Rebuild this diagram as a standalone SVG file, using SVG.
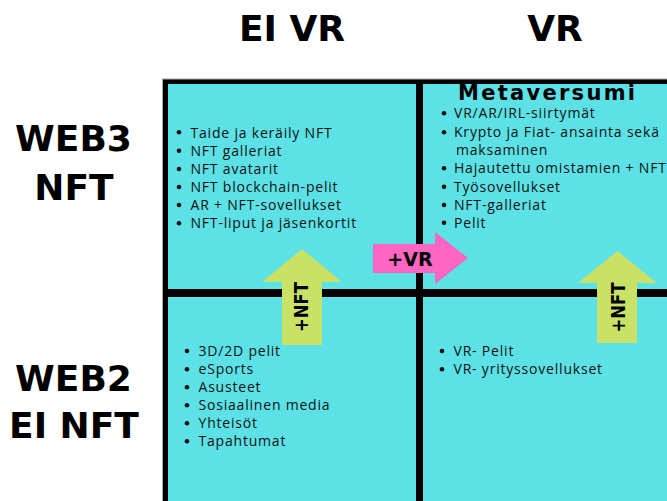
<svg xmlns="http://www.w3.org/2000/svg" width="667" height="501" viewBox="0 0 667 501">
<style>
.cell{fill:#5CE1E6}
.hdr{font-family:"DejaVu Sans","Liberation Sans",sans-serif;font-weight:bold;font-size:36px;fill:#000;text-anchor:middle}
.item{font-family:"Open Sans","Liberation Sans",sans-serif;font-size:14px;letter-spacing:0.8px;fill:#111}
.dot{fill:#111}
.lbl{font-family:"DejaVu Sans","Liberation Sans",sans-serif;font-weight:bold;fill:#000;text-anchor:middle}
.pink{fill:#FF66C4}
.green{fill:#C9E265}
</style>
<rect width="667" height="501" fill="#fff"/>
<g id="headers">
<text class="hdr" x="292" y="41">EI VR</text>
<text class="hdr" x="555" y="41">VR</text>
<text class="hdr" x="73.5" y="151">WEB3</text>
<text class="hdr" x="74" y="200">NFT</text>
<text class="hdr" x="73.5" y="391">WEB2</text>
<text class="hdr" x="74" y="438">EI NFT</text>
</g>
<g id="grid">
<rect x="162.5" y="79" width="505" height="423" fill="#000" stroke="#aaa" stroke-width="1"/>
</g>
<g id="cell-web3-eivr">
<rect class="cell" x="168" y="84" width="248" height="205"/>
<g class="dot"><circle cx="179" cy="132.3" r="2.3"/><circle cx="179" cy="150.7" r="2.3"/><circle cx="179" cy="169" r="2.3"/><circle cx="179" cy="187" r="2.3"/><circle cx="179" cy="205" r="2.3"/><circle cx="179" cy="223.3" r="2.3"/></g>
<text class="item" x="190.5" y="137.5">Taide ja keräily NFT</text>
<text class="item" x="190.5" y="155.8">NFT galleriat</text>
<text class="item" x="190.5" y="174">NFT avatarit</text>
<text class="item" x="190.5" y="192">NFT blockchain-pelit</text>
<text class="item" x="190.5" y="210">AR + NFT-sovellukset</text>
<text class="item" x="190.5" y="228.3">NFT-liput ja jäsenkortit</text>
</g>
<g id="cell-web3-vr">
<rect class="cell" x="423" y="84" width="244" height="205"/>
<text class="lbl" x="546.5" y="100" font-size="21" textLength="177" lengthAdjust="spacing">Metaversumi</text>
<g class="dot"><circle cx="444" cy="113.3" r="2.3"/><circle cx="444" cy="132.3" r="2.3"/><circle cx="444" cy="168.3" r="2.3"/><circle cx="444" cy="186.7" r="2.3"/><circle cx="444" cy="205" r="2.3"/><circle cx="444" cy="222.7" r="2.3"/></g>
<text class="item" x="454" y="118.3">VR/AR/IRL-siirtymät</text>
<text class="item" x="454" y="137.3">Krypto ja Fiat- ansainta sekä</text>
<text class="item" x="456" y="155">maksaminen</text>
<text class="item" x="454" y="173.3">Hajautettu omistamien + NFT</text>
<text class="item" x="454" y="191.7">Työsovellukset</text>
<text class="item" x="454" y="210">NFT-galleriat</text>
<text class="item" x="454" y="227.7">Pelit</text>
</g>
<g id="cell-web2-eivr">
<rect class="cell" x="168" y="297" width="248" height="204"/>
<g class="dot"><circle cx="187" cy="351" r="2.3"/><circle cx="187" cy="369.3" r="2.3"/><circle cx="187" cy="387.3" r="2.3"/><circle cx="187" cy="405.3" r="2.3"/><circle cx="187" cy="423.3" r="2.3"/><circle cx="187" cy="441.3" r="2.3"/></g>
<text class="item" x="198.5" y="356">3D/2D pelit</text>
<text class="item" x="198.5" y="374.3">eSports</text>
<text class="item" x="198.5" y="392.3">Asusteet</text>
<text class="item" x="198.5" y="410.3">Sosiaalinen media</text>
<text class="item" x="198.5" y="428.3">Yhteisöt</text>
<text class="item" x="198.5" y="446.3">Tapahtumat</text>
</g>
<g id="cell-web2-vr">
<rect class="cell" x="423" y="297" width="244" height="204"/>
<g class="dot"><circle cx="442" cy="351" r="2.3"/><circle cx="442" cy="369.3" r="2.3"/></g>
<text class="item" x="453.5" y="356">VR- Pelit</text>
<text class="item" x="453.5" y="374.3">VR- yrityssovellukset</text>
</g>
<g id="connectors">
<g id="arrow-vr">
<polygon class="pink" points="373,244 435,244 435,232 468,258 435,284 435,273 373,273"/>
<text class="lbl" x="410" y="265.5" font-size="19">+VR</text>
</g>
<g id="arrow-nft-left">
<polygon class="green" points="282,345 282,282 262,282 302,249 342,282 322,282 322,345"/>
<text class="lbl" font-size="19" textLength="50" lengthAdjust="spacingAndGlyphs" transform="translate(308,307) rotate(-90)">+NFT</text>
</g>
<g id="arrow-nft-right">
<polygon class="green" points="597,343 597,283 578,283 617.5,251 657,283 637,283 637,343"/>
<text class="lbl" font-size="19" textLength="50" lengthAdjust="spacingAndGlyphs" transform="translate(625,307.5) rotate(-90)">+NFT</text>
</g>
</g>
</svg>
